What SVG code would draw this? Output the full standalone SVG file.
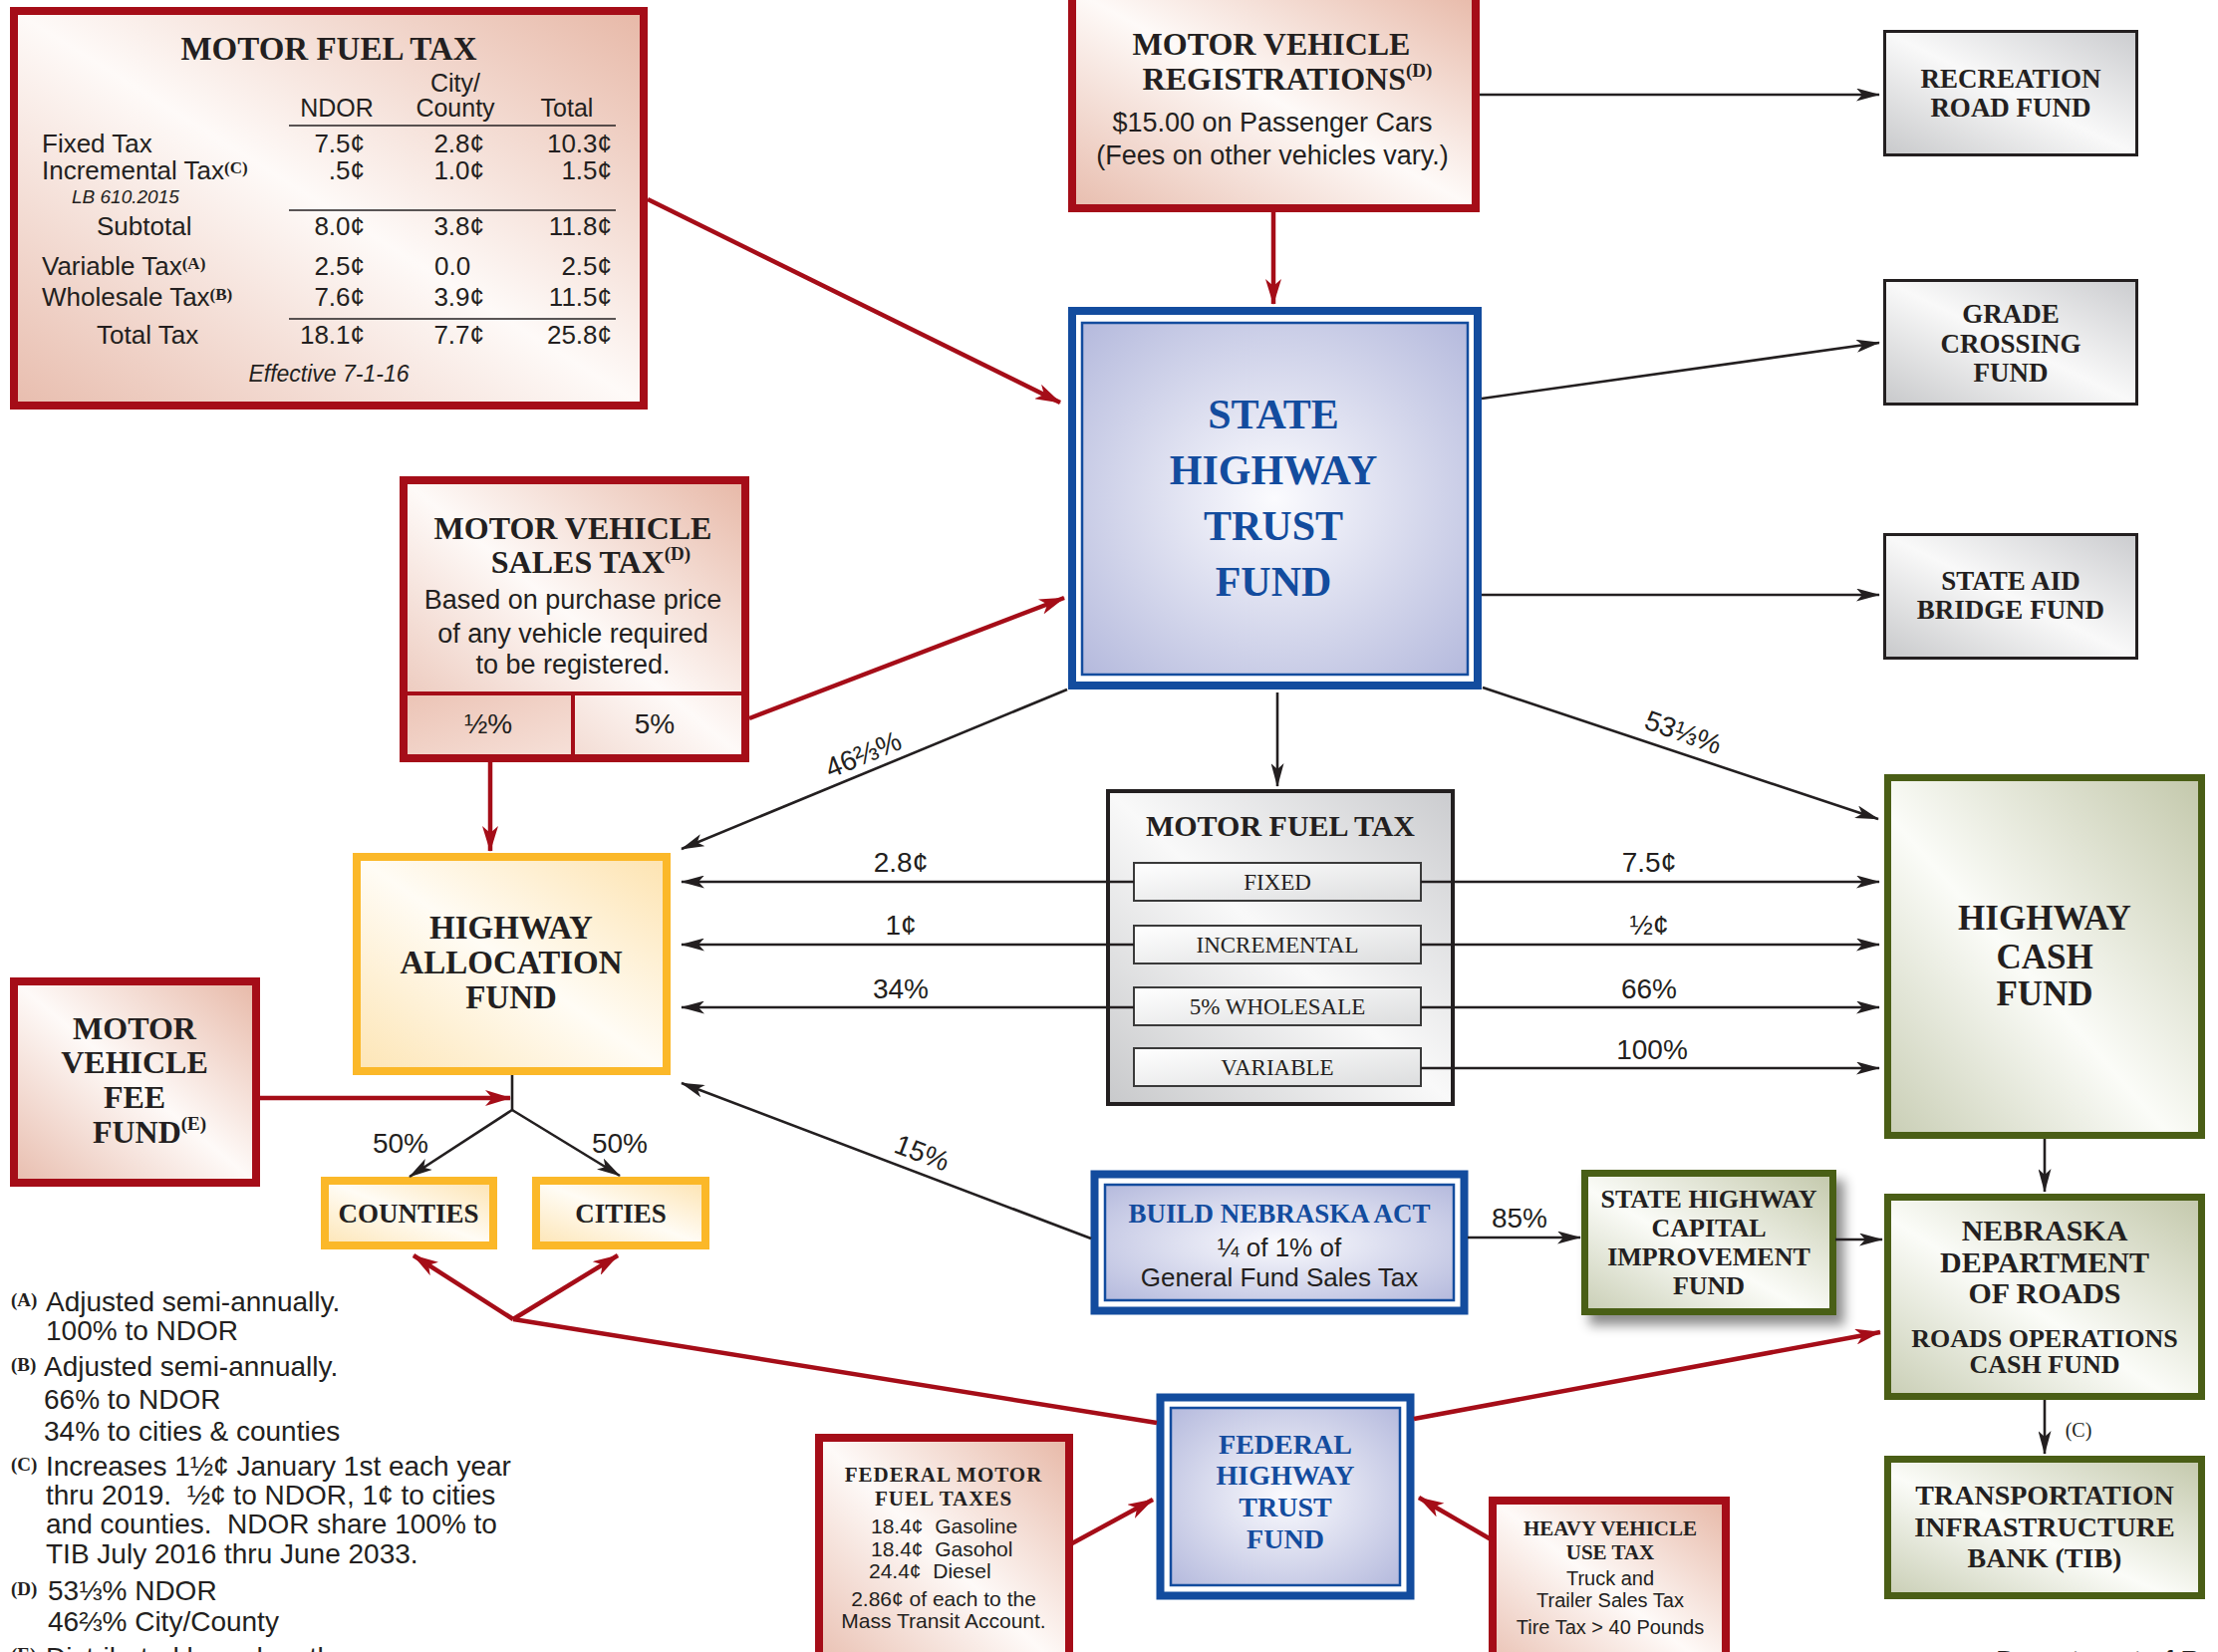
<svg xmlns="http://www.w3.org/2000/svg" width="2226" height="1658" viewBox="0 0 2226 1658">
<defs>
<linearGradient id="gRed" x1="1" y1="0" x2="0" y2="1"><stop offset="0" stop-color="#e7b8a7"/><stop offset="0.5" stop-color="#fefaf8"/><stop offset="1" stop-color="#e8bdae"/></linearGradient>
<linearGradient id="gRedDark" x1="0" y1="0" x2="1" y2="1"><stop offset="0" stop-color="#ecc4b6"/><stop offset="1" stop-color="#f6e0d8"/></linearGradient>
<radialGradient id="gBlue" cx="0.5" cy="0.5" r="0.72"><stop offset="0" stop-color="#fbfbfe"/><stop offset="1" stop-color="#b3b8dc"/></radialGradient>
<linearGradient id="gGray" x1="0" y1="1" x2="1" y2="0"><stop offset="0" stop-color="#c8c9cb"/><stop offset="0.5" stop-color="#f9f9f9"/><stop offset="1" stop-color="#cbcccf"/></linearGradient>
<linearGradient id="gSub" x1="0" y1="0" x2="1" y2="1"><stop offset="0" stop-color="#ffffff"/><stop offset="1" stop-color="#dcddde"/></linearGradient>
<linearGradient id="gYel" x1="1" y1="0" x2="0" y2="1"><stop offset="0" stop-color="#fde3b0"/><stop offset="0.5" stop-color="#fffcf5"/><stop offset="1" stop-color="#fde5b5"/></linearGradient>
<linearGradient id="gGrn" x1="1" y1="0" x2="0" y2="1"><stop offset="0" stop-color="#c3c8ab"/><stop offset="0.55" stop-color="#fbfcf8"/><stop offset="1" stop-color="#c9ceb5"/></linearGradient>
<filter id="shadow" x="-10%" y="-10%" width="130%" height="140%"><feDropShadow dx="8" dy="10" stdDeviation="6" flood-color="#000" flood-opacity="0.45"/></filter>
<marker id="ak" viewBox="0 0 24 13" refX="23" refY="6.5" markerWidth="24" markerHeight="13" markerUnits="userSpaceOnUse" orient="auto"><path d="M0,0 L24,6.5 L0,13 L6,6.5 z" fill="#231f20"/></marker>
<marker id="ar" viewBox="0 0 26 16" refX="25" refY="8" markerWidth="26" markerHeight="16" markerUnits="userSpaceOnUse" orient="auto"><path d="M0,0 L26,8 L0,16 L7,8 z" fill="#a50d18"/></marker>
<style>
.serif{font-family:"Liberation Serif","DejaVu Serif",serif;font-weight:bold;fill:#231f20;text-anchor:middle}
.reg{font-family:"Liberation Serif","DejaVu Serif",serif;fill:#231f20;text-anchor:middle}
.sans{font-family:"Liberation Sans",Arial,"DejaVu Sans",sans-serif;fill:#231f20}
.mid{text-anchor:middle}
.end{text-anchor:end}
.pre{white-space:pre}
.blue{fill:#134c9e}
.sup{font-family:"Liberation Serif","DejaVu Serif",serif;font-weight:bold}
.red{fill:url(#gRed);stroke:#a50d18;stroke-width:8}
.gray{fill:url(#gGray);stroke:#231f20;stroke-width:3}
.yel{fill:url(#gYel);stroke:#fbb829;stroke-width:8}
.grn{fill:url(#gGrn);stroke:#4a5e16;stroke-width:7}
.bo{fill:#ffffff;stroke:#134c9e;stroke-width:8}
.bi{fill:url(#gBlue);stroke:#134c9e;stroke-width:2.5}
.sub{fill:url(#gSub);stroke:#3a3a3a;stroke-width:2}
.k{stroke:#231f20;stroke-width:2.6;fill:none;marker-end:url(#ak)}
.kl{stroke:#231f20;stroke-width:2.6;fill:none}
.r{stroke:#a50d18;stroke-width:4.5;fill:none;marker-end:url(#ar)}
.rl{stroke:#a50d18;stroke-width:4.5;fill:none}
.ln{stroke:#231f20;stroke-width:1.6}
</style>
</defs>
<rect width="2226" height="1658" fill="#ffffff"/>

<g id="motor-fuel-tax-table">
<rect class="red" x="14" y="11" width="632" height="396"/>
<text class="serif" x="330" y="60" font-size="33">MOTOR FUEL TAX</text>
<g class="sans" font-size="25">
<text class="mid" x="338" y="117">NDOR</text>
<text class="mid" x="457" y="92">City/</text>
<text class="mid" x="457" y="117">County</text>
<text class="mid" x="569" y="117">Total</text>
</g>
<line class="ln" x1="290" y1="126" x2="618" y2="126"/>
<line class="ln" x1="290" y1="211" x2="618" y2="211"/>
<line class="ln" x1="290" y1="320" x2="618" y2="320"/>
<g class="sans" font-size="26">
<text x="42" y="153">Fixed Tax</text>
<text x="42" y="180">Incremental Tax<tspan class="sup" font-size="17" dy="-6">(C)</tspan></text>
<text x="72" y="204" font-size="19" font-style="italic">LB 610.2015</text>
<text x="97" y="236">Subtotal</text>
<text x="42" y="276">Variable Tax<tspan class="sup" font-size="17" dy="-6">(A)</tspan></text>
<text x="42" y="307">Wholesale Tax<tspan class="sup" font-size="17" dy="-6">(B)</tspan></text>
<text x="97" y="345">Total Tax</text>
<text class="end" x="366" y="153">7.5¢</text><text class="end" x="486" y="153">2.8¢</text><text class="end" x="614" y="153">10.3¢</text>
<text class="end" x="366" y="180">.5¢</text><text class="end" x="486" y="180">1.0¢</text><text class="end" x="614" y="180">1.5¢</text>
<text class="end" x="366" y="236">8.0¢</text><text class="end" x="486" y="236">3.8¢</text><text class="end" x="614" y="236">11.8¢</text>
<text class="end" x="366" y="276">2.5¢</text><text x="436" y="276">0.0</text><text class="end" x="614" y="276">2.5¢</text>
<text class="end" x="366" y="307">7.6¢</text><text class="end" x="486" y="307">3.9¢</text><text class="end" x="614" y="307">11.5¢</text>
<text class="end" x="366" y="345">18.1¢</text><text class="end" x="486" y="345">7.7¢</text><text class="end" x="614" y="345">25.8¢</text>
<text class="mid" x="330" y="383" font-size="23" font-style="italic">Effective 7-1-16</text>
</g>
</g>

<g id="motor-vehicle-registrations">
<rect class="red" x="1076" y="-10" width="405" height="219"/>
<text class="serif" x="1276" y="55" font-size="32">MOTOR VEHICLE</text>
<text class="serif" x="1292" y="90" font-size="32">REGISTRATIONS<tspan font-size="19" dy="-13">(D)</tspan></text>
<text class="sans mid" x="1277" y="132" font-size="27">$15.00 on Passenger Cars</text>
<text class="sans mid" x="1277" y="165" font-size="27">(Fees on other vehicles vary.)</text>
</g>

<g id="recreation-road-fund">
<rect class="gray" x="1891.5" y="31.5" width="253" height="124"/>
<text class="serif" x="2018" y="88" font-size="27">RECREATION</text>
<text class="serif" x="2018" y="117" font-size="27">ROAD FUND</text>
</g>
<g id="grade-crossing-fund">
<rect class="gray" x="1891.5" y="281.5" width="253" height="124"/>
<text class="serif" x="2018" y="324" font-size="27">GRADE</text>
<text class="serif" x="2018" y="354" font-size="27">CROSSING</text>
<text class="serif" x="2018" y="383" font-size="27">FUND</text>
</g>
<g id="state-aid-bridge-fund">
<rect class="gray" x="1891.5" y="536.5" width="253" height="124"/>
<text class="serif" x="2018" y="592" font-size="27">STATE AID</text>
<text class="serif" x="2018" y="621" font-size="27">BRIDGE FUND</text>
</g>

<g id="state-highway-trust-fund">
<rect class="bo" x="1076" y="312" width="407" height="376"/>
<rect class="bi" x="1086" y="324" width="387" height="353"/>
<text class="serif blue" x="1278" y="430" font-size="42">STATE</text>
<text class="serif blue" x="1278" y="486" font-size="42">HIGHWAY</text>
<text class="serif blue" x="1278" y="542" font-size="42">TRUST</text>
<text class="serif blue" x="1278" y="598" font-size="42">FUND</text>
</g>

<g id="motor-vehicle-sales-tax">
<rect class="red" x="405" y="482" width="343" height="279"/>
<rect x="409" y="698" width="166" height="59" fill="url(#gRedDark)"/>
<line x1="405" y1="696" x2="748" y2="696" stroke="#a50d18" stroke-width="4"/>
<line x1="575" y1="696" x2="575" y2="761" stroke="#a50d18" stroke-width="4"/>
<text class="serif" x="575" y="541" font-size="32">MOTOR VEHICLE</text>
<text class="serif" x="593" y="575" font-size="32">SALES TAX<tspan font-size="19" dy="-13">(D)</tspan></text>
<text class="sans mid" x="575" y="611" font-size="27">Based on purchase price</text>
<text class="sans mid" x="575" y="645" font-size="27">of any vehicle required</text>
<text class="sans mid" x="575" y="676" font-size="27">to be registered.</text>
<text class="sans mid" x="490" y="736" font-size="28">½%</text>
<text class="sans mid" x="657" y="736" font-size="28">5%</text>
</g>

<g id="highway-allocation-fund">
<rect class="yel" x="358" y="860" width="311" height="215"/>
<text class="serif" x="513" y="942" font-size="33">HIGHWAY</text>
<text class="serif" x="513" y="977" font-size="33">ALLOCATION</text>
<text class="serif" x="513" y="1012" font-size="33">FUND</text>
</g>

<g id="motor-vehicle-fee-fund">
<rect class="red" x="14" y="985" width="243" height="202"/>
<text class="serif" x="135" y="1043" font-size="32">MOTOR</text>
<text class="serif" x="135" y="1077" font-size="32">VEHICLE</text>
<text class="serif" x="135" y="1112" font-size="32">FEE</text>
<text class="serif" x="150" y="1147" font-size="32">FUND<tspan font-size="19" dy="-13">(E)</tspan></text>
</g>

<g id="counties">
<rect class="yel" x="326" y="1185" width="169" height="65" stroke-width="6"/>
<text class="serif" x="410" y="1227" font-size="27">COUNTIES</text>
</g>
<g id="cities">
<rect class="yel" x="538" y="1185" width="170" height="65" stroke-width="6"/>
<text class="serif" x="623" y="1227" font-size="27">CITIES</text>
</g>

<g id="motor-fuel-tax-split">
<rect x="1112" y="794" width="346" height="314" fill="url(#gGray)" stroke="#231f20" stroke-width="4"/>
<text class="serif" x="1285" y="839" font-size="30">MOTOR FUEL TAX</text>
<rect class="sub" x="1138" y="866" width="288" height="38"/>
<rect class="sub" x="1138" y="929" width="288" height="38"/>
<rect class="sub" x="1138" y="991" width="288" height="38"/>
<rect class="sub" x="1138" y="1052" width="288" height="38"/>
<text class="reg" x="1282" y="893" font-size="23">FIXED</text>
<text class="reg" x="1282" y="956" font-size="23">INCREMENTAL</text>
<text class="reg" x="1282" y="1018" font-size="23">5% WHOLESALE</text>
<text class="reg" x="1282" y="1079" font-size="23">VARIABLE</text>
</g>

<g id="highway-cash-fund">
<rect class="grn" x="1894.5" y="780.5" width="315" height="359"/>
<text class="serif" x="2052" y="933" font-size="35">HIGHWAY</text>
<text class="serif" x="2052" y="972" font-size="35">CASH</text>
<text class="serif" x="2052" y="1009" font-size="35">FUND</text>
</g>

<g id="build-nebraska-act">
<rect class="bo" x="1098.5" y="1178.5" width="371" height="137" stroke-width="7"/>
<rect class="bi" x="1109" y="1189" width="350" height="116"/>
<text class="serif blue" x="1284" y="1227" font-size="27">BUILD NEBRASKA ACT</text>
<text class="sans mid" x="1284" y="1261" font-size="26">¼ of 1% of</text>
<text class="sans mid" x="1284" y="1291" font-size="26">General Fund Sales Tax</text>
</g>

<g id="state-highway-capital-improvement-fund">
<rect class="grn" x="1590.5" y="1177.5" width="249" height="139" stroke-width="5" filter="url(#shadow)"/>
<text class="serif" x="1715" y="1212" font-size="26">STATE HIGHWAY</text>
<text class="serif" x="1715" y="1241" font-size="26">CAPITAL</text>
<text class="serif" x="1715" y="1270" font-size="26">IMPROVEMENT</text>
<text class="serif" x="1715" y="1299" font-size="26">FUND</text>
</g>

<g id="nebraska-department-of-roads">
<rect class="grn" x="1894.5" y="1201.5" width="315" height="200"/>
<text class="serif" x="2052" y="1245" font-size="30">NEBRASKA</text>
<text class="serif" x="2052" y="1277" font-size="30">DEPARTMENT</text>
<text class="serif" x="2052" y="1308" font-size="30">OF ROADS</text>
<text class="serif" x="2052" y="1352" font-size="26">ROADS OPERATIONS</text>
<text class="serif" x="2052" y="1378" font-size="26">CASH FUND</text>
</g>

<g id="transportation-infrastructure-bank">
<rect class="grn" x="1894.5" y="1464.5" width="315" height="137"/>
<text class="serif" x="2052" y="1510" font-size="28">TRANSPORTATION</text>
<text class="serif" x="2052" y="1542" font-size="28">INFRASTRUCTURE</text>
<text class="serif" x="2052" y="1573" font-size="28">BANK (TIB)</text>
</g>

<g id="federal-highway-trust-fund">
<rect class="bo" x="1164.5" y="1402.5" width="251" height="199" stroke-width="7"/>
<rect class="bi" x="1175" y="1413" width="230" height="178"/>
<text class="serif blue" x="1290" y="1459" font-size="28">FEDERAL</text>
<text class="serif blue" x="1290" y="1490" font-size="28">HIGHWAY</text>
<text class="serif blue" x="1290" y="1522" font-size="28">TRUST</text>
<text class="serif blue" x="1290" y="1554" font-size="28">FUND</text>
</g>

<g id="federal-motor-fuel-taxes">
<rect class="red" x="822" y="1443" width="251" height="240" stroke-width="6"/>
<text class="serif" x="947" y="1487" font-size="21" letter-spacing="1">FEDERAL MOTOR</text>
<text class="serif" x="947" y="1511" font-size="21" letter-spacing="1">FUEL TAXES</text>
<g class="sans" font-size="21">
<text class="pre" xml:space="preserve" x="874" y="1539">18.4¢  Gasoline</text>
<text class="pre" xml:space="preserve" x="874" y="1562">18.4¢  Gasohol</text>
<text class="pre" xml:space="preserve" x="872" y="1584">24.4¢  Diesel</text>
<text class="mid" x="947" y="1612">2.86¢ of each to the</text>
<text class="mid" x="947" y="1634">Mass Transit Account.</text>
</g>
</g>

<g id="heavy-vehicle-use-tax">
<rect class="red" x="1498" y="1506" width="234" height="180" stroke-width="6"/>
<text class="serif" x="1616" y="1541" font-size="21">HEAVY VEHICLE</text>
<text class="serif" x="1616" y="1565" font-size="21">USE TAX</text>
<text class="sans mid" x="1616" y="1591" font-size="20">Truck and</text>
<text class="sans mid" x="1616" y="1613" font-size="20">Trailer Sales Tax</text>
<text class="sans mid" x="1616" y="1640" font-size="20">Tire Tax &gt; 40 Pounds</text>
</g>

<g id="footnotes" class="sans" font-size="28">
<text class="sup" x="11" y="1311" font-size="19">(A)</text>
<text x="46" y="1316">Adjusted semi-annually.</text>
<text x="46" y="1345">100% to NDOR</text>
<text class="sup" x="11" y="1376" font-size="19">(B)</text>
<text x="44" y="1381">Adjusted semi-annually.</text>
<text x="44" y="1414">66% to NDOR</text>
<text x="44" y="1446">34% to cities &amp; counties</text>
<text class="sup" x="11" y="1476" font-size="19">(C)</text>
<text x="46" y="1481">Increases 1½¢ January 1st each year</text>
<text class="pre" xml:space="preserve" x="46" y="1510">thru 2019.  ½¢ to NDOR, 1¢ to cities</text>
<text class="pre" xml:space="preserve" x="46" y="1539">and counties.  NDOR share 100% to</text>
<text x="46" y="1569">TIB July 2016 thru June 2033.</text>
<text class="sup" x="11" y="1601" font-size="19">(D)</text>
<text x="48" y="1606">53⅓% NDOR</text>
<text x="48" y="1637">46⅔% City/County</text>
<text class="sup" x="11" y="1667" font-size="19">(E)</text>
<text x="46" y="1673">Distributed based on the</text>
</g>

<g id="credit">
<text class="sans" x="2003" y="1676" font-size="28">Department of Roads</text>
</g>

<g id="connectors">
<line class="k" x1="1485" y1="95" x2="1886" y2="95"/>
<line class="k" x1="1487" y1="400" x2="1886" y2="344"/>
<line class="k" x1="1487" y1="597" x2="1886" y2="597"/>
<line class="k" x1="1488" y1="690" x2="1885" y2="822"/>
<line class="k" x1="1071" y1="692" x2="684" y2="852"/>
<line class="k" x1="1282" y1="695" x2="1282" y2="789"/>
<line class="k" x1="1138" y1="885" x2="684" y2="885"/>
<line class="k" x1="1138" y1="948" x2="684" y2="948"/>
<line class="k" x1="1138" y1="1011" x2="684" y2="1011"/>
<line class="k" x1="1426" y1="885" x2="1886" y2="885"/>
<line class="k" x1="1426" y1="948" x2="1886" y2="948"/>
<line class="k" x1="1426" y1="1011" x2="1886" y2="1011"/>
<line class="k" x1="1426" y1="1072" x2="1886" y2="1072"/>
<line class="k" x1="1095" y1="1243" x2="684" y2="1087"/>
<line class="k" x1="1473" y1="1242" x2="1586" y2="1242"/>
<line class="k" x1="1842" y1="1244" x2="1889" y2="1244"/>
<line class="k" x1="2052" y1="1143" x2="2052" y2="1196"/>
<line class="k" x1="2052" y1="1405" x2="2052" y2="1459"/>
<line class="kl" x1="514" y1="1079" x2="514" y2="1115"/>
<line class="k" x1="514" y1="1114" x2="411" y2="1181"/>
<line class="k" x1="514" y1="1114" x2="622" y2="1180"/>
<line class="r" x1="650" y1="200" x2="1064" y2="404"/>
<line class="r" x1="1278" y1="213" x2="1278" y2="305"/>
<line class="r" x1="752" y1="721" x2="1068" y2="600"/>
<line class="r" x1="492" y1="765" x2="492" y2="854"/>
<line class="r" x1="261" y1="1102" x2="512" y2="1102"/>
<line class="rl" x1="1161" y1="1428" x2="515" y2="1324"/>
<line class="r" x1="515" y1="1324" x2="415" y2="1260"/>
<line class="r" x1="515" y1="1324" x2="620" y2="1260"/>
<line class="r" x1="1419" y1="1424" x2="1887" y2="1337"/>
<line class="r" x1="1076" y1="1549" x2="1157" y2="1505"/>
<line class="r" x1="1498" y1="1546" x2="1424" y2="1503"/>
<g class="sans" font-size="28">
<text class="mid" transform="translate(870,766) rotate(-22.5)">46⅔%</text>
<text class="mid" transform="translate(1686,744) rotate(20)">53⅓%</text>
<text class="mid" transform="translate(922,1166) rotate(20.8)">15%</text>
<text class="mid" x="904" y="875">2.8¢</text>
<text class="mid" x="904" y="938">1¢</text>
<text class="mid" x="904" y="1002">34%</text>
<text class="mid" x="1655" y="875">7.5¢</text>
<text class="mid" x="1655" y="938">½¢</text>
<text class="mid" x="1655" y="1002">66%</text>
<text class="mid" x="1658" y="1063">100%</text>
<text class="mid" x="402" y="1157">50%</text>
<text class="mid" x="622" y="1157">50%</text>
<text class="mid" x="1525" y="1232">85%</text>
</g>
<text class="reg" x="2086" y="1442" font-size="20">(C)</text>
</g>
</svg>
